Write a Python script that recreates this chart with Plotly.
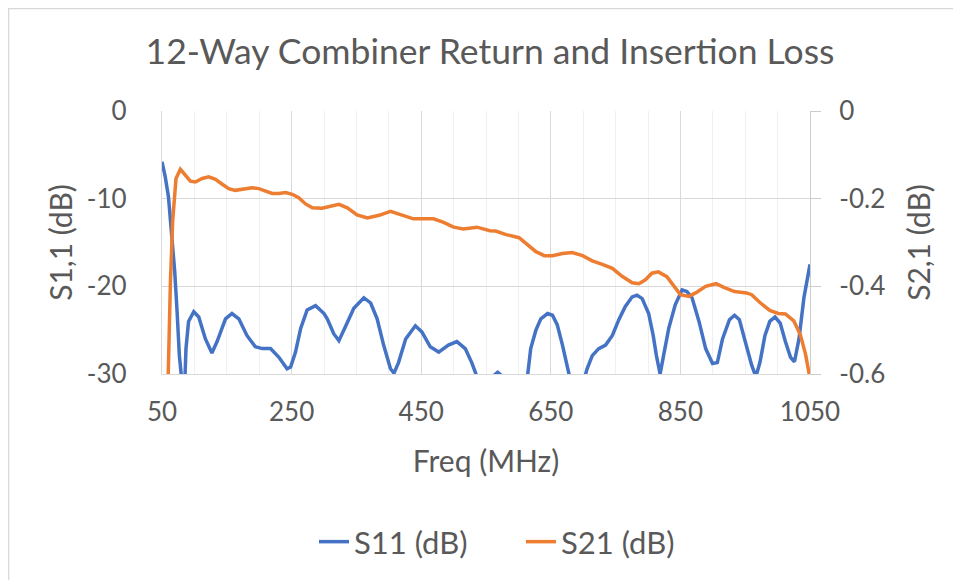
import plotly.graph_objects as go

# ---- data ----
freq_s11 = [50, 55, 60, 65.5, 69.6, 73, 76.8, 80, 82.5, 85.5, 87, 91, 99, 106.7, 117, 127, 135,
            148, 158, 168.6, 181, 194, 204.6, 217.5, 230.4, 243, 248.5, 256, 264, 274, 287,
            300, 305, 315, 323, 333, 346, 361.5, 372, 382, 392, 402.6, 408, 415, 426, 441,
            451, 464, 477, 492, 505, 518, 528, 536, 548, 560, 568, 576, 592, 606, 614, 619,
            627, 634.6, 645, 652.6, 660, 668, 675.6, 679, 690, 700, 706, 714, 724, 734.6,
            745, 755, 765, 775.6, 783, 791, 801, 808, 813, 818.7, 824, 832, 842, 852.6, 860,
            868, 878.7, 889, 899.6, 907, 915, 925.7, 933.5, 941, 949, 960, 966.5, 972.7,
            980.5, 988, 996, 1004, 1012, 1020, 1026, 1033, 1040.6, 1050]
s11_db = [-5.8, -7.5, -9.8, -14.4, -18.3, -22.5, -27.9, -30.3, -35, -30.3, -27.1, -24, -22.9, -23.5,
          -26, -27.6, -26.3, -23.7, -23.1, -23.7, -25.6, -26.9, -27.1, -27.1, -28.1, -29.4, -29.2,
          -27.5, -24.8, -22.7, -22.2, -23.1, -23.7, -25.4, -26.2, -24.6, -22.5, -21.3, -21.9,
          -23.7, -26.7, -29.4, -29.9, -28.7, -26, -24.5, -25.2, -26.9, -27.5, -26.7, -26.3,
          -27.1, -28.7, -30.3, -32, -30.3, -29.8, -30.3, -33, -32, -30.3, -27.1, -25, -23.7,
          -23.1, -23.3, -24.4, -26.7, -29.4, -30.3, -33, -31, -29.4, -27.9, -27.1, -26.7,
          -25.6, -23.8, -22.3, -21.2, -21, -21.4, -23.1, -25.6, -27.9, -30, -27.9, -24.8,
          -22.1, -20.4, -20.6, -21.3, -24, -27.1, -28.8, -28.7, -26, -23.8, -23.3, -23.8,
          -26, -29, -30.3, -28.7, -25.6, -24, -23.5, -24.2, -26.3, -28.1, -28.6, -26, -21.3,
          -17.5]

freq_s21 = [50, 59, 63, 66.5, 71.6, 78.4, 86, 93.8, 101.5, 112, 122, 132.5, 143, 153, 163, 174,
            189, 199.5, 210, 220, 230, 240.7, 251, 261, 271.6, 282, 297, 310, 323, 336, 351,
            367, 385, 402.6, 418, 438, 469, 484.6, 500, 515, 536, 556, 565, 581, 601, 614,
            627, 640, 652.6, 668, 683, 699, 714, 729.5, 745, 760, 775.6, 786, 796, 806, 816,
            829, 842, 850, 863, 873.5, 889, 905, 918, 933.5, 952, 960, 972.7, 988, 1001,
            1012, 1025, 1035, 1043, 1050]
s21_db = [-1.2, -0.62, -0.39, -0.25, -0.154, -0.133, -0.146, -0.16, -0.162, -0.154, -0.15, -0.156,
          -0.167, -0.177, -0.181, -0.178, -0.175, -0.177, -0.182, -0.188, -0.188, -0.186, -0.19,
          -0.198, -0.212, -0.221, -0.222, -0.218, -0.213, -0.221, -0.237, -0.244, -0.238,
          -0.229, -0.237, -0.246, -0.246, -0.254, -0.265, -0.269, -0.265, -0.273, -0.274,
          -0.282, -0.289, -0.305, -0.321, -0.33, -0.33, -0.325, -0.323, -0.33, -0.342, -0.35,
          -0.359, -0.377, -0.392, -0.394, -0.385, -0.37, -0.367, -0.378, -0.404, -0.419,
          -0.423, -0.415, -0.4, -0.394, -0.403, -0.412, -0.415, -0.419, -0.437, -0.455,
          -0.462, -0.463, -0.479, -0.51, -0.554, -0.61]

x_ticks = [50, 250, 450, 650, 850, 1050]
y1_ticks = [0, -10, -20, -30]
y1_ticktext = ["0", "-10", "-20", "-30"]
y2_ticks = [0, -0.2, -0.4, -0.6]
y2_ticktext = ["0", "-0.2", "-0.4", "-0.6"]

TXT = "#595959"
FONT = "Lato, 'Open Sans', sans-serif"
OFF = 8  # page body margin
W, H = 961 - OFF, 580 - OFF
L, R, T, B = 162 - OFF, 151, 111 - OFF, 206

fig = go.Figure()
fig.add_trace(go.Scatter(x=freq_s11, y=s11_db, name="S11 (dB)", mode="lines",
                         line=dict(color="#4472C4", width=3.5), yaxis="y"))
fig.add_trace(go.Scatter(x=freq_s21, y=s21_db, name="S21 (dB)", mode="lines",
                         line=dict(color="#ED7D31", width=3.5), yaxis="y2"))

pw = W - L - R
ph = H - T - B

def px_x(sx):
    return (sx - OFF - L) / pw

def px_y(sy):
    return (H - B - (sy - OFF)) / ph

fig.update_layout(
    width=W, height=H,
    margin=dict(l=L, r=R, t=T, b=B, autoexpand=False),
    paper_bgcolor="white", plot_bgcolor="white",
    font=dict(family=FONT, color=TXT, size=26),
    title=dict(text="12-Way Combiner Return and Insertion Loss", x=(490 - OFF) / W,
               xanchor="center", y=1 - (52 - OFF) / H, yanchor="middle",
               font=dict(size=35.5, color=TXT, family=FONT)),
    xaxis=dict(range=[50, 1050], tickvals=x_ticks, showgrid=True, gridcolor="#d9d9d9",
               gridwidth=1.3, zeroline=False, showline=True, linecolor="#d9d9d9", linewidth=1.3,
               ticks="", ticklabelstandoff=15,
               minor=dict(tickvals=list(range(50, 1051, 50)), showgrid=True,
                          gridcolor="#f0f0f0", gridwidth=1.3),
               title=dict(text="Freq (MHz)", standoff=24, font=dict(size=30)),
               automargin=False),
    yaxis=dict(range=[-30, 0], tickvals=y1_ticks, ticktext=y1_ticktext, showgrid=True,
               gridcolor="#d9d9d9", gridwidth=1.3, zeroline=False, showline=True,
               linecolor="#d9d9d9", linewidth=1.3, ticks="", ticklabelstandoff=29,
               title=dict(text="S1,1 (dB)", standoff=5, font=dict(size=30)),
               automargin=False),
    yaxis2=dict(range=[-0.6, 0], tickvals=y2_ticks, ticktext=y2_ticktext, overlaying="y",
                side="right", showgrid=False, zeroline=False, showline=True,
                linecolor="#cccccc", linewidth=1.3, ticks="outside", ticklen=10,
                tickcolor="#cccccc", tickwidth=1.3, ticklabelstandoff=13,
                title=dict(text="S2,1 (dB)", standoff=24, font=dict(size=30)),
                automargin=False),
    legend=dict(orientation="h", x=px_x(521), xanchor="center",
                y=px_y(542), yanchor="middle", font=dict(size=31, color=TXT),
                bgcolor="rgba(0,0,0,0)", entrywidth=162, entrywidthmode="pixels"),
    showlegend=True,
    shapes=[dict(type="rect", xref="paper", yref="paper",
                 x0=px_x(8.7), x1=px_x(990),
                 y0=px_y(600), y1=px_y(8.7),
                 line=dict(color="#d9d9d9", width=1.3), fillcolor="rgba(0,0,0,0)",
                 layer="below")],
)

fig.write_html("out.html")
